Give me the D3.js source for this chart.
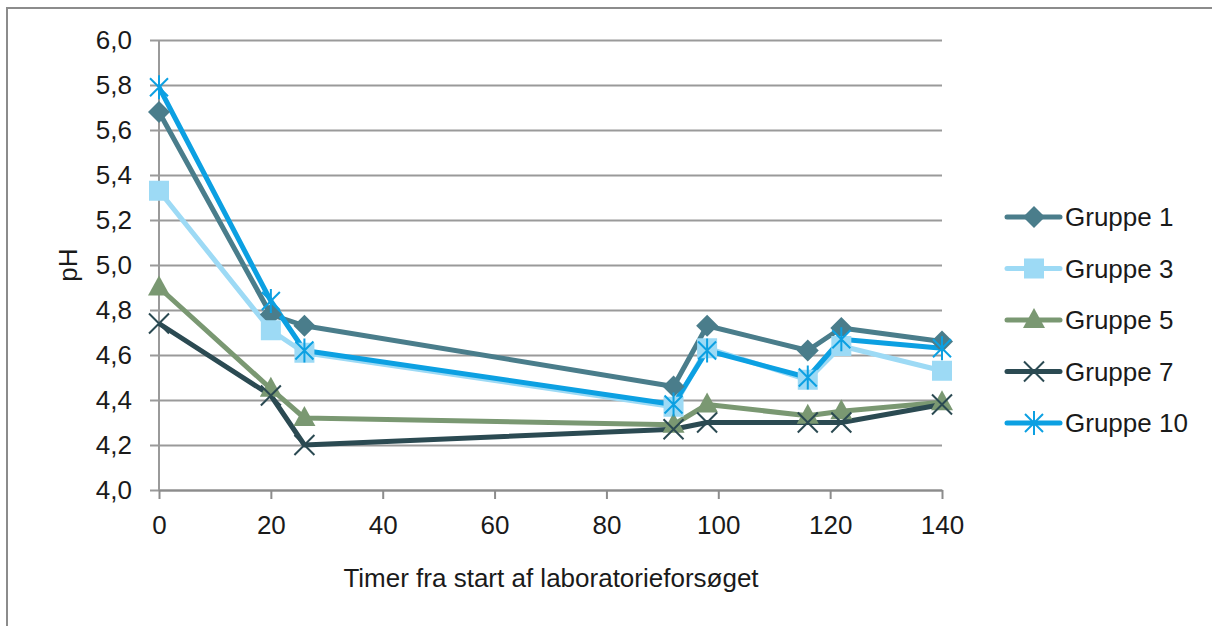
<!DOCTYPE html>
<html>
<head>
<meta charset="utf-8">
<script src="https://cdn.jsdelivr.net/npm/d3@7"></script>
<style>
  body { margin: 0; background: #fff; }
  text { font-family: "Liberation Sans", Arial, sans-serif; fill: #1a1a1a; }
</style>
</head>
<body>
<div id="chart"></div>
<script>
// data
var hours = [0, 20, 26, 92, 98, 116, 122, 140];
var gruppe1 = [5.68, 4.78, 4.73, 4.46, 4.73, 4.62, 4.72, 4.66];
var gruppe3 = [5.33, 4.71, 4.61, 4.37, 4.63, 4.49, 4.64, 4.53];
var gruppe5 = [4.90, 4.45, 4.32, 4.29, 4.38, 4.33, 4.35, 4.39];
var gruppe7 = [4.74, 4.42, 4.20, 4.27, 4.30, 4.30, 4.30, 4.38];
var gruppe10 = [5.79, 4.84, 4.62, 4.38, 4.62, 4.50, 4.67, 4.63];
var seriesNames = ["Gruppe 1", "Gruppe 3", "Gruppe 5", "Gruppe 7", "Gruppe 10"];
var yTicks = [4.0, 4.2, 4.4, 4.6, 4.8, 5.0, 5.2, 5.4, 5.6, 5.8, 6.0];
var xTicks = [0, 20, 40, 60, 80, 100, 120, 140];

var series = [
  { name: seriesNames[0], values: gruppe1, color: "#4a7d8b", marker: "diamond" },
  { name: seriesNames[1], values: gruppe3, color: "#9ddaf5", marker: "square" },
  { name: seriesNames[2], values: gruppe5, color: "#7a9872", marker: "triangle" },
  { name: seriesNames[3], values: gruppe7, color: "#2b4a52", marker: "cross" },
  { name: seriesNames[4], values: gruppe10, color: "#0ca0e2", marker: "star" }
];

var svgWidth = 1212;
var svgHeight = 626;
var margin = { top: 40, left: 159 };
var width = 942 - 159;
var height = 490 - 40;
var fontSize = "26px";

var svg = d3.select("#chart")
  .append("svg")
  .attr("width", svgWidth)
  .attr("height", svgHeight);

// outer frame (runs off right and bottom)
svg.append("rect")
  .attr("x", 7).attr("y", 8)
  .attr("width", svgWidth + 20).attr("height", svgHeight + 20)
  .attr("fill", "none")
  .attr("stroke", "#8c8c8c")
  .attr("stroke-width", 2);

var chartGroup = svg.append("g")
  .attr("transform", `translate(${margin.left}, ${margin.top})`);

var xScale = d3.scaleLinear().domain([0, 140]).range([0, width]);
var yScale = d3.scaleLinear().domain([4, 6]).range([height, 0]);

// gridlines + y ticks
var leftAxis = d3.axisLeft(yScale)
  .tickValues(yTicks)
  .tickSize(-width)
  .tickPadding(27)
  .tickFormat(d => d3.format(".1f")(d).replace(".", ","));
var yAxisG = chartGroup.append("g").call(leftAxis);
yAxisG.select(".domain").remove();
yAxisG.selectAll(".tick line")
  .attr("x1", -9)
  .attr("stroke", "#9a9a9a")
  .attr("stroke-width", 2);
yAxisG.selectAll(".tick text")
  .attr("font-size", fontSize)
  .style("font-family", "Liberation Sans, Arial, sans-serif")
  .attr("fill", "#1a1a1a");

// vertical axis line
chartGroup.append("line")
  .attr("x1", 0).attr("x2", 0)
  .attr("y1", 0).attr("y2", height)
  .attr("stroke", "#9a9a9a")
  .attr("stroke-width", 2);

// x axis
var bottomAxis = d3.axisBottom(xScale)
  .tickValues(xTicks)
  .tickSize(9)
  .tickSizeOuter(0)
  .tickPadding(17);
var xAxisG = chartGroup.append("g")
  .attr("transform", `translate(0, ${height})`)
  .call(bottomAxis);
xAxisG.select(".domain").attr("stroke", "#8c8c8c").attr("stroke-width", 2);
xAxisG.selectAll(".tick line").attr("stroke", "#8c8c8c").attr("stroke-width", 2);
xAxisG.selectAll(".tick text")
  .attr("font-size", fontSize)
  .style("font-family", "Liberation Sans, Arial, sans-serif")
  .attr("fill", "#1a1a1a");

// markers
function drawMarker(g, type, color) {
  if (type === "diamond") {
    g.append("path").attr("d", "M0,-11L11,0L0,11L-11,0Z").attr("fill", color);
  } else if (type === "square") {
    g.append("rect").attr("x", -10).attr("y", -10)
      .attr("width", 20).attr("height", 20).attr("fill", color);
  } else if (type === "triangle") {
    g.append("path").attr("d", "M0,-12L11,8L-11,8Z").attr("fill", color);
  } else if (type === "cross") {
    var s = 10;
    g.append("path").attr("d", `M${-s},${-s}L${s},${s}M${-s},${s}L${s},${-s}`)
      .attr("stroke", color).attr("stroke-width", 2);
  } else if (type === "star") {
    var r = 9;
    g.append("path")
      .attr("d", `M${-r},${-r}L${r},${r}M${-r},${r}L${r},${-r}M0,${-r - 3}L0,${r + 3}`)
      .attr("stroke", color).attr("stroke-width", 2);
  }
}

var line = d3.line()
  .x((d, i) => xScale(hours[i]))
  .y(d => yScale(d));

series.forEach(function(s) {
  chartGroup.append("path")
    .datum(s.values)
    .attr("d", line)
    .attr("fill", "none")
    .attr("stroke", s.color)
    .attr("stroke-width", 5)
    .attr("stroke-linejoin", "round");
});

series.forEach(function(s) {
  chartGroup.append("g").selectAll("g")
    .data(s.values)
    .enter()
    .append("g")
    .attr("transform", (d, i) => `translate(${xScale(hours[i])}, ${yScale(d)})`)
    .each(function() { drawMarker(d3.select(this), s.marker, s.color); });
});

// axis titles
svg.append("text")
  .attr("transform", "translate(77, 265) rotate(-90)")
  .attr("text-anchor", "middle")
  .attr("font-size", fontSize)
  .text("pH");

svg.append("text")
  .attr("x", 551)
  .attr("y", 587)
  .attr("text-anchor", "middle")
  .attr("font-size", fontSize)
  .text("Timer fra start af laboratorieforsøget");

// legend
var legend = svg.append("g").attr("transform", "translate(1007, 217)");
series.forEach(function(s, i) {
  var item = legend.append("g").attr("transform", `translate(0, ${i * 51.5})`);
  item.append("line")
    .attr("x1", 0).attr("x2", 53)
    .attr("stroke", s.color)
    .attr("stroke-width", 5)
    .attr("stroke-linecap", "round");
  var m = item.append("g").attr("transform", "translate(27, 0)");
  drawMarker(m, s.marker, s.color);
  item.append("text")
    .attr("x", 58)
    .attr("y", 9)
    .attr("font-size", fontSize)
    .text(s.name);
});
</script>
</body>
</html>
